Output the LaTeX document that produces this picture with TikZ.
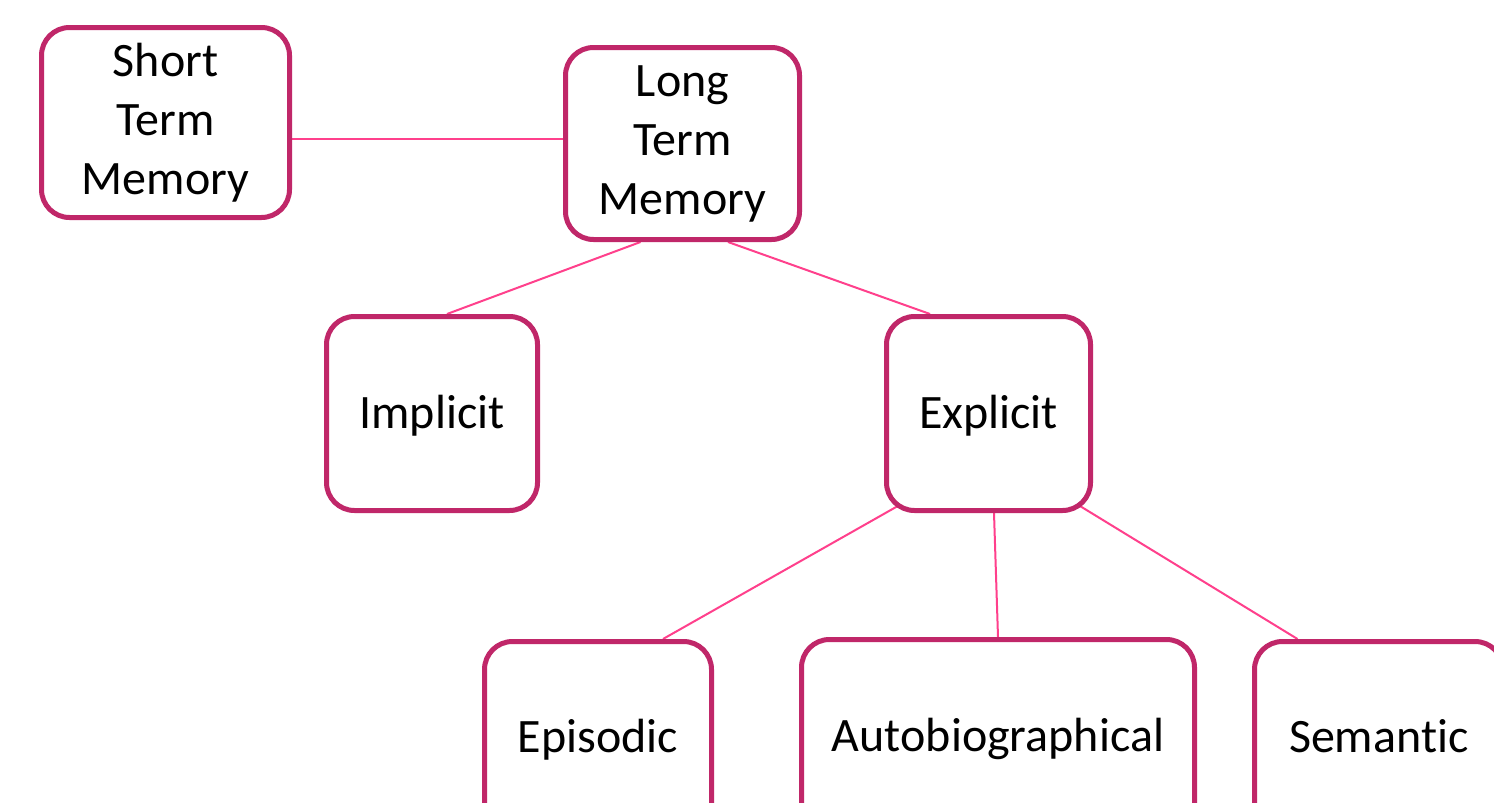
\documentclass[tikz,border=0pt]{standalone}
\usepackage{fontspec}
\setmainfont{Carlito}[Ligatures={NoCommon}]
\usetikzlibrary{calc,backgrounds}
\definecolor{boxc}{RGB}{192,39,105}
\definecolor{linec}{RGB}{255,64,140}
\tikzset{
  membox/.style={draw=boxc, line width=5pt, rounded corners=28pt, fill=white,
    inner sep=0pt, align=center, text=black,
    font={\fontsize{48}{59}\selectfont}},
  oneline/.style={membox, text height=30pt, text depth=0pt},
  conn/.style={draw=linec, line width=2pt}
}
\begin{document}
\begin{tikzpicture}[x=1pt,y=-1pt]
\clip (0,0) rectangle (1494,803);
\node[membox, minimum width=248pt, minimum height=190pt] (stm) at (165.5,122.5) {Short\\Term\\Memory};
\node[membox, minimum width=234pt, minimum height=192pt] (ltm) at (682.5,143.5) {Long\\Term\\Memory};
\node[oneline, minimum width=211pt, minimum height=194pt] (impl) at (432,413.5) {Implicit};
\node[oneline, minimum width=204pt, minimum height=194pt] (expl) at (988.5,413.5) {Explicit};
\node[oneline, minimum width=227pt, minimum height=191pt] (epi) at (598,737) {Episodic};
\node[oneline, minimum width=393pt, minimum height=193pt] (auto) at (998,736) {Autobiographical};
\node[oneline, minimum width=248.5pt, minimum height=191pt] (sem) at (1378.75,737) {Semantic};
\begin{pgfonlayer}{background}
\fill[white] (0,0) rectangle (1494,803);
\draw[conn] ($(stm.east)+(0,16.5)$) -- ($(ltm.west)+(0,-4.5)$);
\draw[conn] ($(ltm.south)+(-42,0)$) -- ($(impl.north)+(15,0)$);
\draw[conn] ($(ltm.south)+(45.5,0)$) -- ($(expl.north)+(-58.5,0)$);
\draw[conn] ($(expl.center)+(-88,91)$) -- ($(epi.north)+(65,0)$);
\draw[conn] ($(expl.south)+(5.5,0)$) -- (auto.north);
\draw[conn] ($(expl.center)+(89,91)$) -- ($(sem.north west)+(45.5,0)$);
\end{pgfonlayer}
\end{tikzpicture}
\end{document}
